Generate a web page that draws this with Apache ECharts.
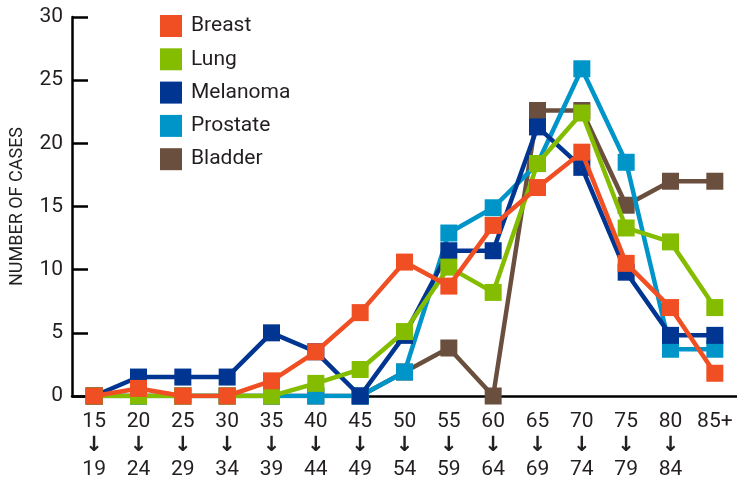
<!DOCTYPE html>
<html>
<head>
<meta charset="utf-8">
<script src="https://cdn.jsdelivr.net/npm/echarts@6/dist/echarts.min.js"></script>
<style>
  html, body { margin: 0; padding: 0; background: #fff; }
  #main { width: 737px; height: 487px; }
</style>
</head>
<body>
<div id="main"></div>
<script>
// age groups
var ageFrom = ['15', '20', '25', '30', '35', '40', '45', '50', '55', '60', '65', '70', '75', '80', '85+'];
var ageTo   = ['19', '24', '29', '34', '39', '44', '49', '54', '59', '64', '69', '74', '79', '84', ''];

// number of cases per cancer type
var breast   = [0, 0.6, 0, 0, 1.2, 3.5, 6.6, 10.6, 8.7, 13.5, 16.5, 19.3, 10.5, 7.0, 1.8];
var lung     = [0, 0, 0, 0, 0, 1.0, 2.1, 5.1, 10.2, 8.2, 18.4, 22.4, 13.3, 12.2, 7.0];
var melanoma = [0, 1.5, 1.5, 1.5, 5.0, 3.5, 0, 4.8, 11.5, 11.5, 21.3, 18.1, 9.8, 4.8, 4.8];
var prostate = [0, 0, 0, 0, 0, 0, 0, 1.9, 12.9, 14.9, 18.4, 25.9, 18.5, 3.7, 3.7];
var bladder  = [0, 0, 0, 0, 0, 0, 0, 1.9, 3.8, 0, 22.6, 22.6, 15.1, 17.0, 17.0];

var yTicks = [0, 5, 10, 15, 20, 25, 30];

var font = 'Roboto, "Liberation Sans", sans-serif';
var ink = '#231f20';

var categories = ageFrom.map(function (a, i) {
    return ageTo[i] ? a + '-' + ageTo[i] : a;
});

// drawing order: bladder at the bottom, breast on top
var defs = [
    {name: 'Bladder',  color: '#6a4f3f', data: bladder,  z: 2},
    {name: 'Prostate', color: '#0095c9', data: prostate, z: 3},
    {name: 'Melanoma', color: '#003591', data: melanoma, z: 4},
    {name: 'Lung',     color: '#84bd00', data: lung,     z: 5},
    {name: 'Breast',   color: '#f04e23', data: breast,   z: 6}
];

var myChart = echarts.init(document.getElementById('main'));
var option = {
    animation: false,
    backgroundColor: '#fff',
    grid: {left: 71, right: -1, top: 17, bottom: 91},
    legend: {
        orient: 'vertical',
        left: 155,
        top: 10,
        itemWidth: 22,
        itemHeight: 22,
        itemGap: 11.3,
        icon: 'rect',
        data: ['Breast', 'Lung', 'Melanoma', 'Prostate', 'Bladder'],
        textStyle: {fontFamily: font, fontSize: 21, color: ink, padding: [0, 0, 0, 4]}
    },
    xAxis: {
        type: 'category',
        data: categories,
        boundaryGap: true,
        axisLine: {lineStyle: {color: '#000', width: 2.5}},
        axisTick: {inside: true, length: 8, lineStyle: {color: '#000', width: 2}},
        axisLabel: {
            interval: 0,
            margin: 14,
            color: ink,
            verticalAlign: 'top',
            formatter: function (v) {
                var p = v.split('-');
                if (p.length < 2) return '{n|' + v + '}';
                return '{n|' + p[0] + '}\n{a|\u2193}\n{n|' + p[1] + '}';
            },
            rich: {
                n: {fontFamily: font, fontSize: 21, lineHeight: 24, color: ink},
                a: {fontFamily: '"DejaVu Sans"', fontSize: 21, fontWeight: 'bold', lineHeight: 24, color: ink}
            }
        }
    },
    yAxis: {
        type: 'value',
        min: yTicks[0],
        max: yTicks[yTicks.length - 1],
        interval: 5,
        name: 'NUMBER OF CASES',
        nameLocation: 'middle',
        nameGap: 46,
        nameTextStyle: {fontFamily: font, fontSize: 18, color: ink},
        splitLine: {show: false},
        axisLine: {show: true, lineStyle: {color: '#000', width: 2.5}},
        axisTick: {show: true, inside: true, length: 16, lineStyle: {color: '#000', width: 2.5}},
        axisLabel: {margin: 9, fontFamily: font, fontSize: 21, color: ink}
    },
    series: defs.map(function (d) {
        return {
            name: d.name,
            type: 'line',
            data: d.data,
            z: d.z,
            color: d.color,
            symbol: 'rect',
            symbolSize: 17,
            showAllSymbol: true,
            lineStyle: {width: 4.5, color: d.color},
            itemStyle: {color: d.color}
        };
    })
};
myChart.setOption(option);
</script>
</body>
</html>
